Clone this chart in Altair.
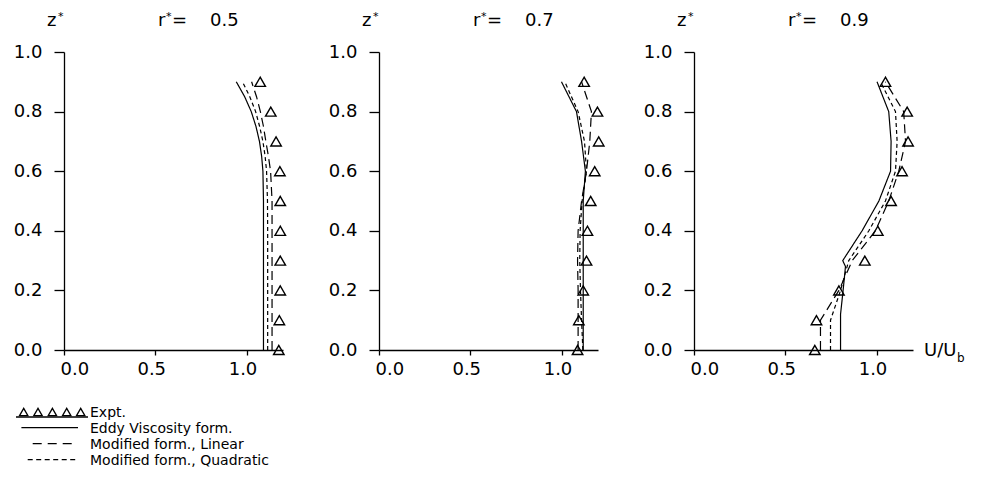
import altair as alt
import pandas as pd

FONT = "DejaVu Sans"

# ---------------- data ----------------
r_values = ["0.5", "0.7", "0.9"]
series_names = ["Eddy Viscosity form.", "Modified form., Linear", "Modified form., Quadratic"]

z_expt = [0.0, 0.1, 0.2, 0.3, 0.4, 0.5, 0.6, 0.7, 0.8, 0.9]
expt_r05 = [1.177, 1.180, 1.185, 1.185, 1.185, 1.185, 1.183, 1.162, 1.133, 1.075]
expt_r07 = [1.088, 1.095, 1.119, 1.137, 1.142, 1.160, 1.182, 1.204, 1.197, 1.124]
expt_r09 = [0.662, 0.671, 0.794, 0.936, 1.007, 1.080, 1.140, 1.173, 1.168, 1.049]

# r* = 0.5
z_r05 = [0.0, 0.1, 0.2, 0.3, 0.4, 0.5, 0.6, 0.65, 0.7, 0.75, 0.8, 0.85, 0.9]
eddy_r05 = [1.093, 1.093, 1.093, 1.093, 1.093, 1.093, 1.090, 1.083, 1.071, 1.052, 1.026, 0.990, 0.944]
lin_r05 = [1.140, 1.140, 1.140, 1.140, 1.140, 1.140, 1.132, 1.120, 1.106, 1.093, 1.076, 1.055, 1.028]
quad_r05 = [1.116, 1.116, 1.116, 1.116, 1.116, 1.115, 1.110, 1.102, 1.090, 1.072, 1.050, 1.018, 0.978]

# r* = 0.7
z_r07 = [0.0, 0.1, 0.2, 0.3, 0.4, 0.5, 0.6, 0.7, 0.8, 0.9]
eddy_r07 = [1.119, 1.119, 1.119, 1.119, 1.119, 1.119, 1.131, 1.110, 1.082, 1.000]
lin_r07 = [1.091, 1.091, 1.091, 1.088, 1.091, 1.110, 1.137, 1.155, 1.164, 1.110]
quad_r07 = [1.117, 1.110, 1.104, 1.100, 1.102, 1.113, 1.137, 1.126, 1.091, 1.018]

# r* = 0.9
z_eddy_r09 = [0.0, 0.12, 0.2, 0.28, 0.3, 0.4, 0.5, 0.6, 0.7, 0.8, 0.9]
eddy_r09 = [0.803, 0.803, 0.817, 0.830, 0.815, 0.921, 1.013, 1.077, 1.080, 1.067, 1.003]
z_r09 = [0.0, 0.1, 0.2, 0.3, 0.4, 0.5, 0.6, 0.7, 0.8, 0.9]
lin_r09 = [0.693, 0.693, 0.794, 0.867, 0.994, 1.067, 1.122, 1.159, 1.149, 1.049]
quad_r09 = [0.748, 0.748, 0.803, 0.848, 0.958, 1.049, 1.104, 1.113, 1.104, 1.022]

x_ticks = [0.0, 0.5, 1.0]
y_ticks = [0.0, 0.2, 0.4, 0.6, 0.8, 1.0]

# ---------------- tables ----------------
line_sets = {
    "0.5": [(series_names[0], z_r05, eddy_r05), (series_names[1], z_r05, lin_r05), (series_names[2], z_r05, quad_r05)],
    "0.7": [(series_names[0], z_r07, eddy_r07), (series_names[1], z_r07, lin_r07), (series_names[2], z_r07, quad_r07)],
    "0.9": [(series_names[0], z_eddy_r09, eddy_r09), (series_names[1], z_r09, lin_r09), (series_names[2], z_r09, quad_r09)],
}
expt_sets = {"0.5": expt_r05, "0.7": expt_r07, "0.9": expt_r09}

W, H = 219, 298
xscale = alt.Scale(domain=[0, 1.2], nice=False, zero=False)
yscale = alt.Scale(domain=[0, 1.0], nice=False)
dash_scale = alt.Scale(domain=series_names, range=[[1, 0], [9, 5], [4, 3]])

xaxis = alt.Axis(values=x_ticks, format=".1f", title=None, tickSize=5, labelPadding=5, grid=False,
                 labelOffset=-4, labelFont=FONT, labelFontSize=18, labelColor="black")
yaxis = alt.Axis(values=y_ticks, format=".1f", title=None, tickSize=10, labelPadding=12, grid=False,
                 labelFont=FONT, labelFontSize=18, labelColor="black")


def text_at(txt, x, y, size=18, align="left", baseline="alphabetic"):
    return alt.Chart(pd.DataFrame({"t": [txt]})).mark_text(
        align=align, baseline=baseline, font=FONT, fontSize=size, color="black"
    ).encode(text="t:N", x=alt.value(x), y=alt.value(y))


def panel(r, first=False, last=False):
    rows = []
    for name, zs, us in line_sets[r]:
        for i, (zz, uu) in enumerate(zip(zs, us)):
            rows.append({"series": name, "z": zz, "u": uu, "idx": i})
    ldf = pd.DataFrame(rows)
    edf = pd.DataFrame({"z": z_expt, "u": expt_sets[r]})

    lines = alt.Chart(ldf).mark_line(color="black", strokeWidth=1.2, clip=False).encode(
        x=alt.X("u:Q", scale=xscale, axis=xaxis),
        y=alt.Y("z:Q", scale=yscale, axis=yaxis),
        detail="series:N",
        strokeDash=alt.StrokeDash("series:N", scale=dash_scale, legend=None),
        order="idx:Q",
    )
    pts = alt.Chart(edf).mark_point(shape="triangle-up", filled=False, color="black", size=110,
                                    strokeWidth=1.4, opacity=1, clip=False).encode(
        x=alt.X("u:Q", scale=xscale),
        y=alt.Y("z:Q", scale=yscale),
    )
    layers = [lines, pts,
              text_at("z", -17, -26), text_at("*", -6, -32, size=11),
              text_at("r", 94, -26), text_at("*", 102, -32, size=11),
              text_at("=", 108, -26), text_at(r, 146, -26)]
    if last:
        layers += [text_at("U/U", 230, 304), text_at("b", 263, 310, size=12)]
    if first:
        # legend
        tri_x = [-40.3, -26.0, -11.6, 2.7, 16.7]
        tri = alt.Chart(pd.DataFrame({"px": tri_x, "py": [360.0] * 5})).mark_point(
            shape="triangle-up", filled=False, color="black", size=70, strokeWidth=1.3, opacity=1
        ).encode(x=alt.X("px:Q", scale=None), y=alt.Y("py:Q", scale=None))
        under = alt.Chart(pd.DataFrame({"a": [0]})).mark_rule(color="black", strokeWidth=1.3).encode(
            x=alt.value(-48), x2=alt.value(24), y=alt.value(365))
        solid = alt.Chart(pd.DataFrame({"a": [0]})).mark_rule(color="black", strokeWidth=1.3).encode(
            x=alt.value(-42.6), x2=alt.value(14), y=alt.value(375.7))
        dash1 = alt.Chart(pd.DataFrame({"a": [0]})).mark_rule(color="black", strokeWidth=1.3,
                                                               strokeDash=[9, 6]).encode(
            x=alt.value(-31.3), x2=alt.value(13.7), y=alt.value(391.7))
        dash2 = alt.Chart(pd.DataFrame({"a": [0]})).mark_rule(color="black", strokeWidth=1.3,
                                                               strokeDash=[5, 3.5]).encode(
            x=alt.value(-36.3), x2=alt.value(13.7), y=alt.value(407.7))
        layers += [tri, under, solid, dash1, dash2,
                   text_at("Expt.", 26, 365, size=14),
                   text_at(series_names[0], 26, 381, size=14),
                   text_at(series_names[1], 26, 397, size=14),
                   text_at(series_names[2], 26, 413, size=14)]
    return alt.layer(*layers).properties(width=W, height=H)


chart = alt.hconcat(
    panel("0.5", first=True), panel("0.7"), panel("0.9", last=True),
    spacing=96, bounds="flush",
).properties(
    padding={"left": 5, "top": 3, "right": 5, "bottom": 5}
).configure_view(stroke=None).configure_axis(
    domainColor="black", domainWidth=1.3, tickColor="black", tickWidth=1.3,
    labelFont=FONT, labelFontSize=18, labelColor="black",
)

chart.save("out.html", embed_options={"renderer": "svg", "actions": False})
